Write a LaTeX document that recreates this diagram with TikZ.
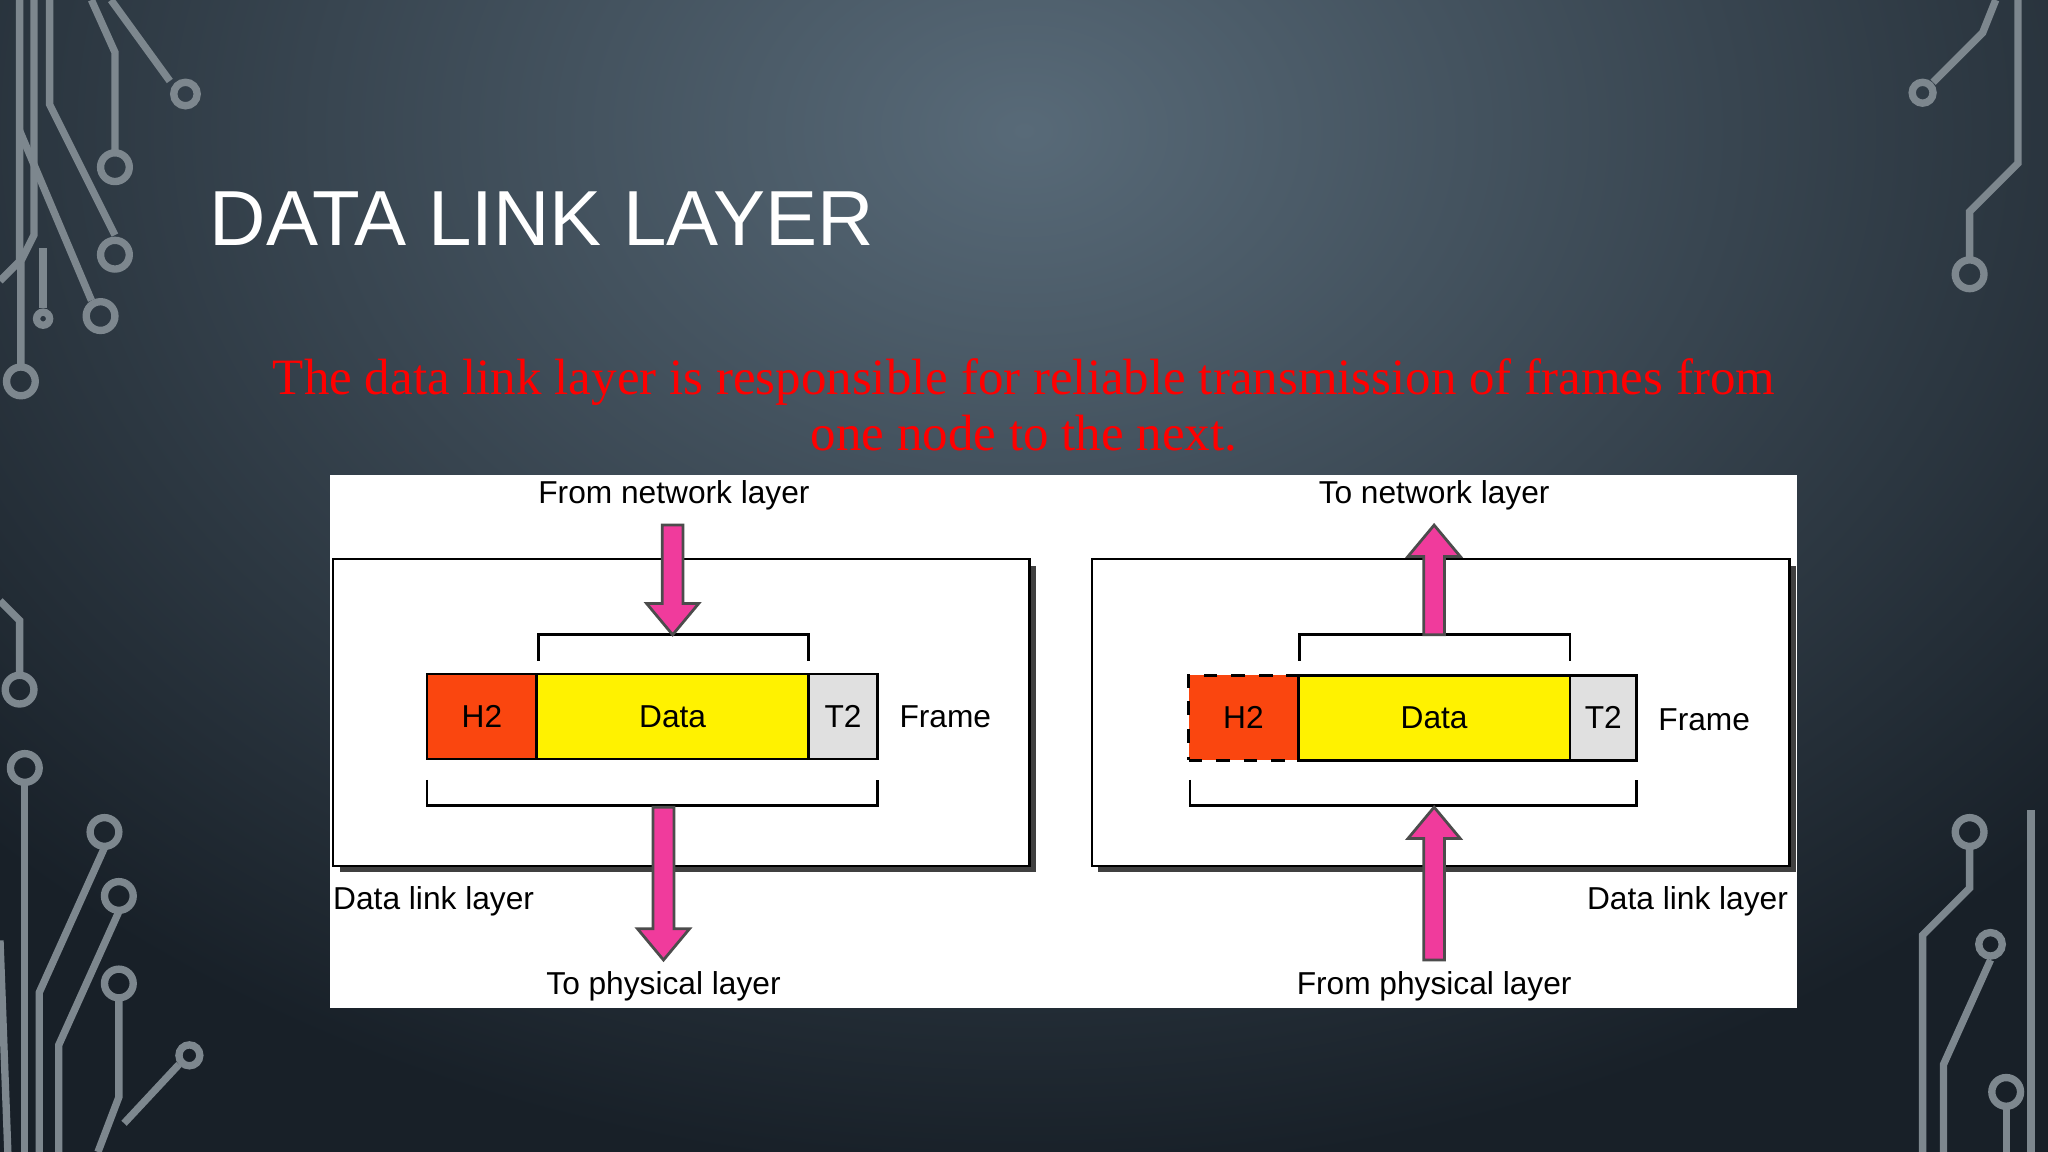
\documentclass[tikz,border=0pt]{standalone}
\usepackage{fontspec}
\setmainfont{Liberation Sans}
\newfontfamily\seriff{Liberation Serif}
\begin{document}
\begin{tikzpicture}[x=0.01cm,y=-0.01cm,
  circ/.style={draw={rgb,255:red,125;green,135;blue,142},line width=1.6pt},
  dot/.style={circ,fill=none},
  lbl/.style={font=\fontsize{6.9}{8}\selectfont,inner sep=0pt},
  cell/.style={draw=black,line width=0.6pt,minimum height=0.65cm,inner sep=0pt,font=\fontsize{6.9}{8}\selectfont},
  boxx/.style={draw=black,line width=0.6pt,fill=white},
  shadow/.style={fill=black!75},
  brk/.style={draw=black,line width=0.6pt},
  parrow/.style={fill=magenta!70!pink,draw=black!70,line width=0.6pt}]
\useasboundingbox (0,0) rectangle (1568,882);
\begin{scope}
\clip (0,0) rectangle (1568,882);
\shade[inner color={rgb,255:red,88;green,106;blue,120},outer color={rgb,255:red,24;green,32;blue,40}] (-300,-700) rectangle (1868,900);
\end{scope}
% circuit decorations
\draw[circ] (15,0) -- (15,200) -- (0,215);
\draw[circ] (26,0) -- (26,180) -- (16,200) -- (16,280);
\draw[circ] (38,0) -- (38,80) -- (88,180);
\draw[circ] (70,0) -- (88,40) -- (88,115);
\draw[circ] (85,0) -- (130,62);
\draw[circ] (15,100) -- (70,230);
\draw[circ] (33,190) -- (33,236);
\foreach \p/\r in {{142,72}/9,{88,128}/11,{88,195}/11,{77,242}/11,{33,244}/5,{16,292}/11} \draw[dot] (\p) circle (\r);
\draw[circ] (0,460) -- (15,475) -- (15,516);
\draw[circ] (19,600) -- (19,882);
\draw[circ] (0,720) -- (6,882);
\draw[circ] (80,649) -- (30,760) -- (30,882);
\draw[circ] (91,698) -- (45,800) -- (45,882);
\draw[circ] (91,765) -- (91,840) -- (75,882);
\draw[circ] (137,815) -- (95,860);
\foreach \p/\r in {{15,528}/11,{19,588}/11,{80,637}/11,{91,686}/11,{91,753}/11,{145,808}/8} \draw[dot] (\p) circle (\r);
\draw[circ] (1528,0) -- (1518,25) -- (1480,63);
\draw[circ] (1545,0) -- (1545,125) -- (1508,162) -- (1508,198);
\draw[circ] (1508,649) -- (1508,680) -- (1472,716) -- (1472,882);
\draw[circ] (1524,735) -- (1488,815) -- (1488,882);
\draw[circ] (1536,848) -- (1536,882);
\draw[circ] (1555,620) -- (1555,882);
\foreach \p/\r in {{1472,71}/8,{1508,210}/11,{1508,637}/11,{1524,723}/9,{1536,836}/11} \draw[dot] (\p) circle (\r);
% title
\node[anchor=base west,text=white,font=\fontsize{17}{20}\selectfont,inner sep=0pt] (title) at (160,188) {DATA LINK LAYER};
\node[text=red,font=\seriff\fontsize{11.1}{12.2}\selectfont,align=center,inner sep=0pt,anchor=base] (sub) at (784,345) {The data link layer is responsible for reliable transmission of frames from\\one node to the next.};
% panel
\fill[white] (253,364) rectangle (1376,772);
\fill[shadow] (260,433) rectangle (793,668);
\draw[boxx] (255,428) rectangle (788,663);
\fill[shadow] (841,433) rectangle (1375,668);
\draw[boxx] (836,428) rectangle (1370,663);
% left frame
\node[cell,fill={rgb,255:red,250;green,70;blue,15},minimum width=0.84cm] (h2a) at (369,548.5) {H2};
\node[cell,fill=yellow,minimum width=2.08cm] (da) at (515,548.5) {Data};
\node[cell,fill=black!12,minimum width=0.53cm] (t2a) at (645.5,548.5) {T2};
\node[lbl,anchor=west] (fa) at (688,549) {Frame};
\draw[brk] (412,506) -- (412,486) -- (619,486) -- (619,506);
\draw[brk] (327,597) -- (327,617) -- (672,617) -- (672,597);
\draw[parrow] (507,402) -- (523,402) -- (523,462) -- (535,462) -- (515,486) -- (495,462) -- (507,462) -- cycle;
\draw[parrow] (500,618) -- (516,618) -- (516,711) -- (528,711) -- (508,735) -- (488,711) -- (500,711) -- cycle;
\node[lbl] (fn) at (516,379) {From network layer};
\node[lbl] (tp) at (508,755) {To physical layer};
\node[lbl] (dla) at (332,690) {Data link layer};
% right frame
\node[cell,fill={rgb,255:red,250;green,70;blue,15},minimum width=0.84cm,dashed] (h2b) at (952,549.5) {H2};
\node[cell,fill=yellow,minimum width=2.08cm] (db) at (1098,549.5) {Data};
\node[cell,fill=black!12,minimum width=0.51cm] (t2b) at (1227.5,549.5) {T2};
\node[lbl,anchor=west] (fb) at (1269,551) {Frame};
\draw[brk] (995,506) -- (995,486) -- (1202,486) -- (1202,506);
\draw[brk] (911,597) -- (911,617) -- (1253,617) -- (1253,597);
\draw[parrow] (1090,486) -- (1106,486) -- (1106,426) -- (1118,426) -- (1098,402) -- (1078,426) -- (1090,426) -- cycle;
\draw[parrow] (1090,735) -- (1106,735) -- (1106,642) -- (1118,642) -- (1098,618) -- (1078,642) -- (1090,642) -- cycle;
\node[lbl] (tn) at (1098,379) {To network layer};
\node[lbl] (fp) at (1098,755) {From physical layer};
\node[lbl] (dlb) at (1292,690) {Data link layer};
\end{tikzpicture}
\end{document}
